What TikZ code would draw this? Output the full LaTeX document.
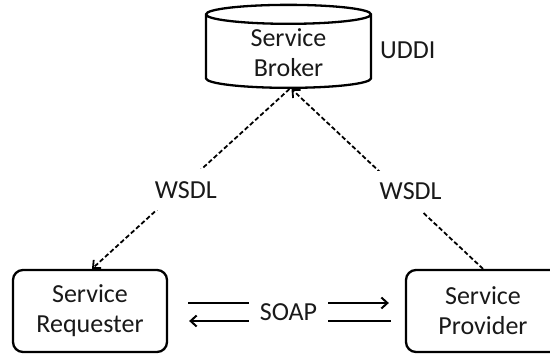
\documentclass[tikz,border=0pt]{standalone}
\usepackage{fontspec}
\setmainfont{Carlito}
\usetikzlibrary{shapes.geometric,arrows.meta}
\tikzset{
  txt/.style={font=\fontsize{26}{30}\selectfont, text=black!90, align=center},
  box/.style={txt, draw, line width=2.3pt, rounded corners=10pt, minimum width=154pt, minimum height=82pt},
  cyl/.style={txt, draw, line width=2.3pt, cylinder, shape border rotate=90, aspect=0.23,
    minimum width=165pt, minimum height=83pt},
  link/.style={line width=1.8pt, dash pattern=on 4.5pt off 2.5pt},
  wsdl/.style={txt, fill=white, inner xsep=4pt, inner ysep=12pt},
}
\begin{document}
\begin{tikzpicture}[x=1pt, y=-1pt, >={Straight Barb[length=6pt,width=11pt]}]
\useasboundingbox[fill=white] (0,0) rectangle (550,354);

\node[cyl] (broker) at (288.5,53) {Service\\Broker};
\node[txt, anchor=west, inner sep=0pt] (uddi) at (380,50) {UDDI};
\node[box] (requester) at (90,311) {Service\\Requester};
\node[box] (provider) at (483,311) {Service\\Provider};

% WSDL links
\draw[link,->] ([xshift=1pt]broker.south) -- node[wsdl, pos=.56, xshift=7pt]{WSDL} ([xshift=2pt]requester.north);
\draw[link,->] (provider.north) -- node[wsdl, pos=.43, xshift=10pt]{WSDL} ([xshift=3pt]broker.south);

% SOAP messages
\draw[line width=2pt,->] ([xshift=20pt,yshift=8pt]requester.east) -- ([xshift=-16pt,yshift=8pt]provider.west);
\draw[line width=2pt,->] ([xshift=-14pt,yshift=-10pt]provider.west) -- ([xshift=21pt,yshift=-10pt]requester.east);
\node[txt, fill=white, inner xsep=11pt, inner ysep=2pt] (soap) at (288.5,312) {SOAP};
\end{tikzpicture}
\end{document}
